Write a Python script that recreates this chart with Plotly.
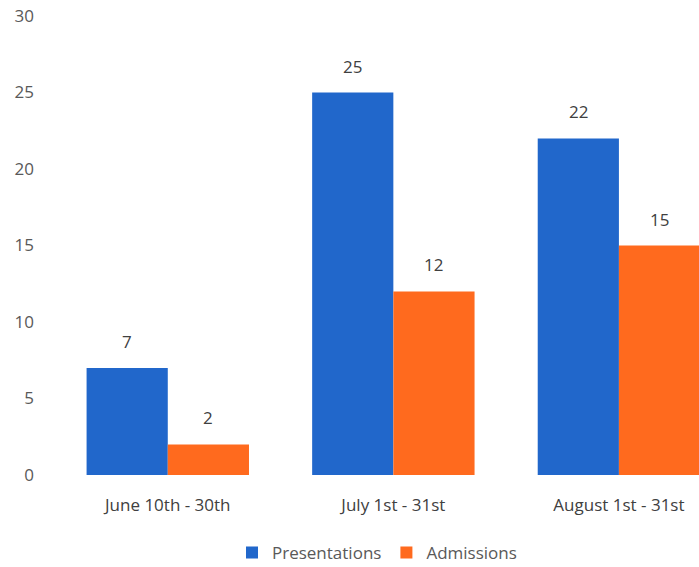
import plotly.graph_objects as go

# Monthly figures
categories = ["June 10th - 30th", "July 1st - 31st", "August 1st - 31st"]
presentations = [7, 25, 22]
admissions = [2, 12, 15]
y_ticks = [0, 5, 10, 15, 20, 25, 30]

BLUE = "#2167CB"
ORANGE = "#FF6A1E"
FONT = "'Open Sans', Lato, sans-serif"

x = list(range(len(categories)))
bargap = 0.28
half = (1 - bargap) / 4  # offset of each bar's centre from the category centre

fig = go.Figure()
fig.add_trace(go.Bar(name="Presentations", x=x, y=presentations,
                     marker=dict(color=BLUE, line=dict(width=0))))
fig.add_trace(go.Bar(name="Admissions", x=x, y=admissions,
                     marker=dict(color=ORANGE, line=dict(width=0))))

# Value labels above each bar
annotations = []
for i, v in enumerate(presentations):
    annotations.append(dict(x=i - half, y=v, text=str(v), showarrow=False,
                            xref="x", yref="y", yanchor="bottom", yshift=13,
                            font=dict(size=17, color="#404040", family=FONT)))
for i, v in enumerate(admissions):
    annotations.append(dict(x=i + half, y=v, text=str(v), showarrow=False,
                            xref="x", yref="y", yanchor="bottom", yshift=13,
                            font=dict(size=17, color="#404040", family=FONT)))

fig.update_layout(
    width=699, height=567,
    margin=dict(l=55, r=0, t=16, b=92, autoexpand=False),
    paper_bgcolor="white", plot_bgcolor="white",
    barmode="group", bargap=bargap, bargroupgap=0,
    font=dict(family=FONT, color="#595959", size=17),
    showlegend=True,
    legend=dict(orientation="h", x=0.5, xref="paper", xanchor="center",
                y=0.025, yref="container", yanchor="middle",
                font=dict(size=17, color="#595959", family=FONT),
                itemwidth=30, tracegroupgap=0),
    xaxis=dict(range=[-0.5, 2.355], tickvals=x, ticktext=categories,
               showgrid=False, zeroline=False, showline=False, ticks="",
               automargin=False,
               tickfont=dict(size=17, color="#404040"), ticklabelstandoff=18),
    yaxis=dict(range=[0, 30], tickvals=y_ticks, showgrid=False, zeroline=False,
               showline=False, ticks="", automargin=False,
               tickfont=dict(size=17, color="#595959"), ticklabelstandoff=20),
    annotations=annotations,
)

fig.write_html("out.html")
